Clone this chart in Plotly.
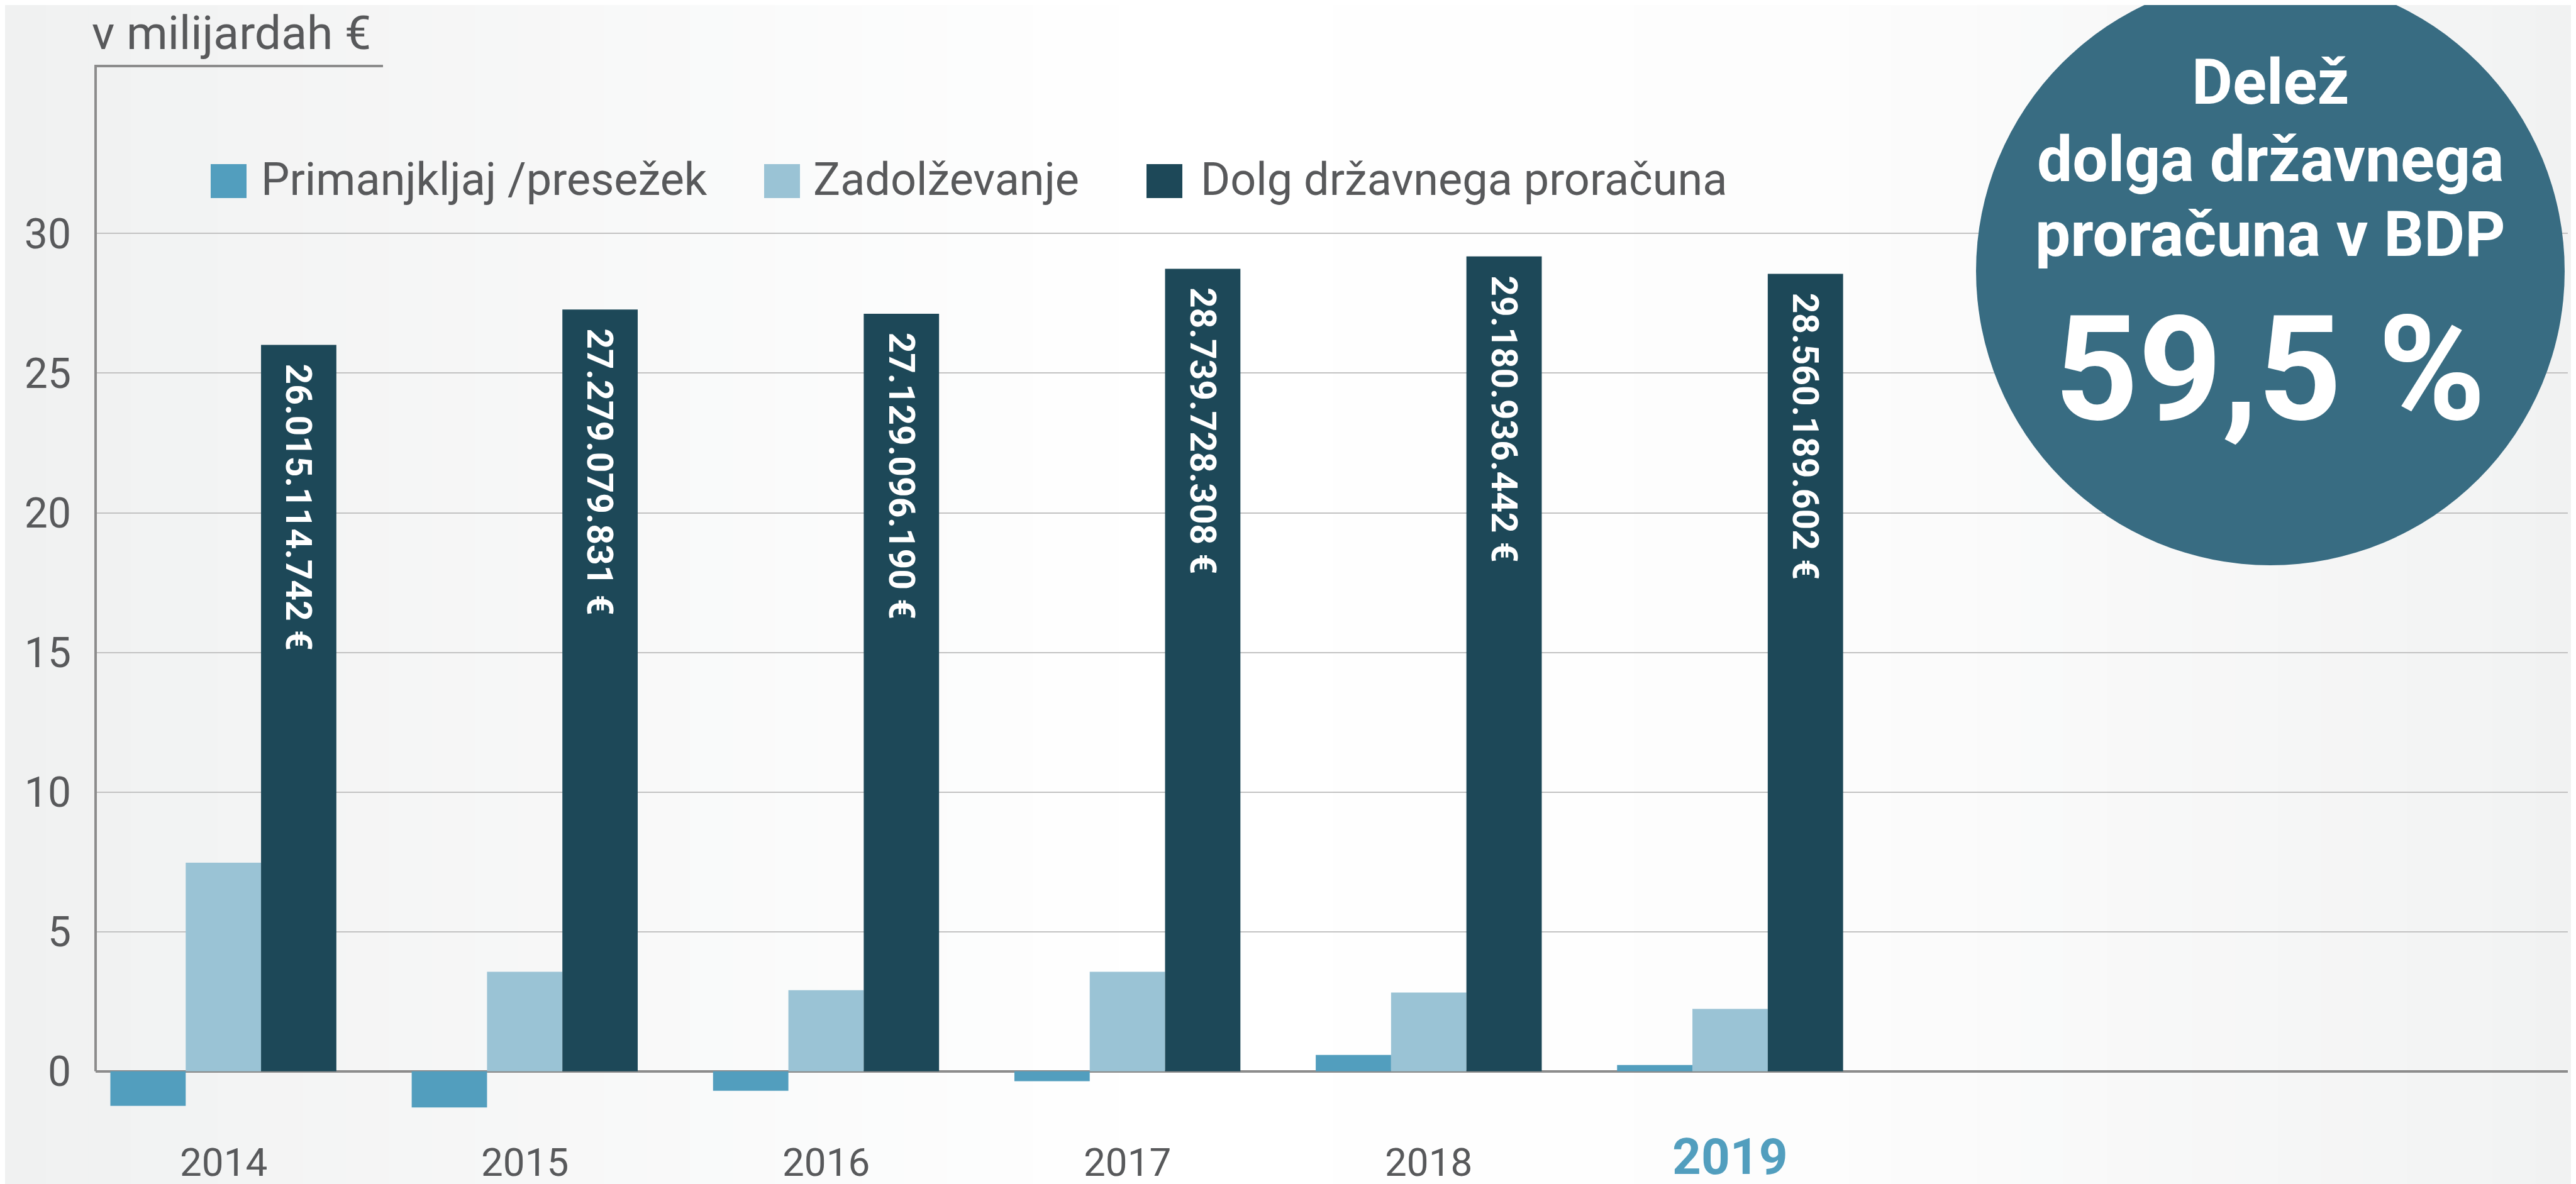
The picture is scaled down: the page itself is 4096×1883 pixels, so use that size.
import plotly.graph_objects as go

# ---------------- data ----------------
years = [2014, 2015, 2016, 2017, 2018, 2019]
year_labels = ["2014", "2015", "2016", "2017", "2018", "2019"]
primanjkljaj = [-1.24, -1.30, -0.70, -0.36, 0.58, 0.22]
zadolzevanje = [7.47, 3.56, 2.90, 3.56, 2.82, 2.23]
dolg = [26.015, 27.279, 27.129, 28.740, 29.181, 28.560]
dolg_labels = ["26.015.114.742 €", "27.279.079.831 €", "27.129.096.190 €",
               "28.739.728.308 €", "29.180.936.442 €", "28.560.189.602 €"]
series_names = ["Primanjkljaj /presežek", "Zadolževanje", "Dolg državnega proračuna"]
y_ticks = [0, 5, 10, 15, 20, 25, 30]
unit_label = "v milijardah €"
circle_lines = ["Delež", "dolga državnega", "proračuna v BDP"]
circle_value = "59,5 %"

# ---------------- style ----------------
W, H = 4096, 1883
ML, MR, MT, MB = 144, 21, 97, 103
PW = W - ML - MR
PH = H - MT - MB
C_PRIM = "#529EBE"
C_ZAD = "#9AC3D5"
C_DOLG = "#1D4858"
C_TEXT = "#58595B"
C_AXIS = "#8C8C8C"
C_CIRCLE = "#386C82"
FONT = "Roboto"
Y_RANGE = [-1.9, 36]


def px_x(X):
    return (X - ML) / PW


def px_y(Y):
    return (H - MB - Y) / PH


fig = go.Figure()
colors = [C_PRIM, C_ZAD, C_DOLG]
for name, vals, col in zip(series_names, [primanjkljaj, zadolzevanje, dolg], colors):
    fig.add_trace(go.Bar(x=years, y=vals, name=name, marker=dict(color=col, line=dict(width=0)),
                         showlegend=False, hoverinfo="x+y"))

shapes = []
# background gradient (horizontal ramp)
stops = [(0.0, (240, 241, 241)), (0.45, (255, 255, 255)), (0.7, (253, 253, 253)), (1.0, (241, 242, 242))]
N = 60
x_left, x_right = px_x(0), px_x(W)
for i in range(N):
    t = (i + 0.5) / N
    for j in range(len(stops) - 1):
        if stops[j][0] <= t <= stops[j + 1][0]:
            a, ca = stops[j]
            b, cb = stops[j + 1]
            f = (t - a) / (b - a)
            c = tuple(round(ca[k] + (cb[k] - ca[k]) * f) for k in range(3))
            break
    shapes.append(dict(type="rect", xref="paper", yref="paper", layer="below",
                       x0=x_left + (x_right - x_left) * i / N - 0.001,
                       x1=x_left + (x_right - x_left) * (i + 1) / N + 0.001,
                       y0=px_y(H), y1=px_y(0),
                       fillcolor="rgb(%d,%d,%d)" % c, line=dict(width=0)))

# y axis line (from zero to top) and the short top line under the unit label
shapes.append(dict(type="line", xref="paper", yref="y", x0=0, x1=0, y0=0, y1=Y_RANGE[1],
                   line=dict(color=C_AXIS, width=4), layer="above"))
shapes.append(dict(type="line", xref="paper", yref="paper", x0=-0.0005, x1=px_x(601), y0=1, y1=1,
                   line=dict(color=C_AXIS, width=4), layer="above"))

# legend squares
legend_sq = [(327, 384), (1207, 1264), (1815, 1872)]
legend_tx = [405, 1283, 1899]
for (a, b), col in zip(legend_sq, colors):
    shapes.append(dict(type="rect", xref="paper", yref="paper", x0=px_x(a), x1=px_x(b),
                       y0=px_y(307), y1=px_y(253), fillcolor=col, line=dict(width=0)))

# circle
cx, cy, r = 3602, 423, 468
shapes.append(dict(type="circle", xref="paper", yref="paper", layer="above",
                   x0=px_x(cx - r), x1=px_x(cx + r), y0=px_y(cy + r), y1=px_y(cy - r),
                   fillcolor=C_CIRCLE, line=dict(width=0)))

annotations = []
annotations.append(dict(xref="paper", yref="paper", x=px_x(136), y=px_y(44), text=unit_label,
                        showarrow=False, xanchor="left", yanchor="middle",
                        font=dict(family=FONT, size=75, color=C_TEXT)))
for name, xt in zip(series_names, legend_tx):
    annotations.append(dict(xref="paper", yref="paper", x=px_x(xt), y=px_y(278), text=name,
                            showarrow=False, xanchor="left", yanchor="middle",
                            font=dict(family=FONT, size=72, color=C_TEXT)))
# x labels
for yr, lab in zip(years, year_labels):
    last = yr == years[-1]
    annotations.append(dict(xref="x", yref="paper", x=yr, y=px_y(1832 if last else 1840), text=lab,
                            showarrow=False, xanchor="center", yanchor="middle",
                            font=dict(family=FONT, size=80 if last else 62,
                                      color=C_PRIM if last else C_TEXT,
                                      weight="bold" if last else "normal")))
# value labels inside debt bars
for yr, v, lab in zip(years, dolg, dolg_labels):
    annotations.append(dict(xref="x", yref="y", x=yr + 0.25, y=v, text=lab, textangle=90,
                            showarrow=False, xanchor="center", yanchor="top", yshift=-28,
                            font=dict(family=FONT, size=57, color="white", weight="bold")))
# circle text
circ_y = [122, 245, 364]
for t, yy in zip(circle_lines, circ_y):
    annotations.append(dict(xref="paper", yref="paper", x=px_x(cx), y=px_y(yy), text=t,
                            showarrow=False, xanchor="center", yanchor="middle",
                            font=dict(family=FONT, size=100, color="white", weight="bold")))
annotations.append(dict(xref="paper", yref="paper", x=px_x(cx), y=px_y(580), text=circle_value,
                        showarrow=False, xanchor="center", yanchor="middle",
                        font=dict(family=FONT, size=232, color="white", weight="bold")))

fig.update_layout(
    width=W, height=H,
    margin=dict(l=ML, r=MR, t=MT, b=MB, pad=0),
    paper_bgcolor="#F5F6F6", plot_bgcolor="rgba(0,0,0,0)",
    barmode="group", bargap=0.25, bargroupgap=0,
    shapes=shapes, annotations=annotations,
    font=dict(family=FONT, color=C_TEXT),
    xaxis=dict(range=[2013.576, 2021.78], showgrid=False, zeroline=False, showline=False,
               showticklabels=False, ticks="", fixedrange=True),
    yaxis=dict(range=Y_RANGE, tickvals=y_ticks, ticktext=[str(v) for v in y_ticks],
               showgrid=True, gridcolor="#C2C2C2", gridwidth=1.5,
               zeroline=True, zerolinecolor=C_AXIS, zerolinewidth=4,
               showline=False, ticks="", ticklabelstandoff=38,
               tickfont=dict(family=FONT, size=66, color=C_TEXT), fixedrange=True),
)

fig.write_html("out.html")
